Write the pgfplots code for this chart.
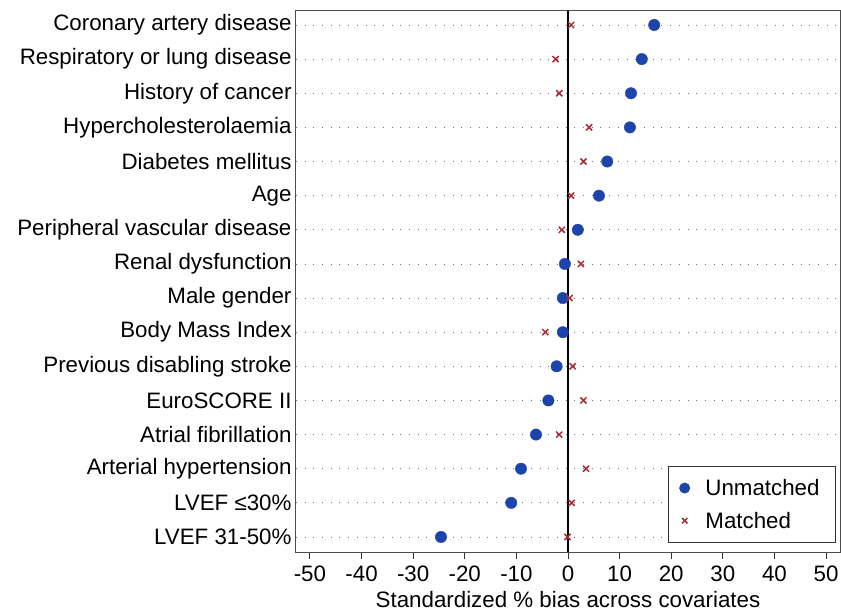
\documentclass[border=0pt]{standalone}
\usepackage{pgfplots}
\pgfplotsset{compat=1.18}
\usepackage{pgfplotstable}
\usepackage{fontspec}
\setmainfont{Liberation Sans}
\definecolor{unm}{RGB}{28,68,170}
\definecolor{mat}{RGB}{172,44,56}
\pgfplotstableread{
y unmatched matched
1 -24.6 -0.1
2 -11.0 0.7
3 -9.1 3.5
4 -6.2 -1.7
5 -3.8 3.0
6 -2.2 0.9
7 -1.0 -4.4
8 -1.0 0.3
9 -0.6 2.5
10 1.9 -1.2
11 6.0 0.6
12 7.6 3.0
13 12.0 4.1
14 12.2 -1.7
15 14.3 -2.4
16 16.7 0.6
}\datatable
\newcommand{\chartfont}{\fontsize{22.4}{26}\selectfont}
\begin{document}
\begin{tikzpicture}
\useasboundingbox (-296bp,-59bp) rectangle (545bp,552bp);
\begin{axis}[
  at={(0,0)}, anchor=south west,
  scale only axis,
  width=544bp, height=541bp,
  xmin=-52.7, xmax=52.7,
  ymin=0.56, ymax=16.41,
  xtick={-50,-40,...,50},
  ytick={1,...,16},
  yticklabels={LVEF 31-50\%, LVEF ≤30\%, Arterial hypertension, Atrial fibrillation, EuroSCORE II, Previous disabling stroke, Body Mass Index, Male gender, Renal dysfunction, Peripheral vascular disease, Age, Diabetes mellitus, Hypercholesterolaemia, History of cancer, Respiratory or lung disease, Coronary artery disease},
  /pgf/number format/assume math mode=true,
  tick label style={font=\chartfont},
  label style={font=\chartfont},
  xlabel={Standardized \% bias across covariates},
  xlabel style={at={(axis description cs:0.5,0)}, anchor=base, yshift=-55bp},
  x tick label style={yshift=-3bp},
  y tick label style={xshift=-1bp},
  xtick align=outside,
  xtick pos=bottom,
  major tick length=7bp,
  x tick style={black!80, line width=0.9bp},
  ytick style={draw=none},
  ymajorgrids,
  grid style={black!55, line width=0.8bp, dash pattern=on 0.9bp off 7.8bp},
  axis line style={black!70, line width=1bp},
  legend style={at={(rel axis cs:1,0)}, anchor=south east, xshift=-4bp, yshift=9bp, font=\chartfont, draw=black!80, line width=0.9bp, inner xsep=0bp, inner ysep=5.5bp, row sep=0bp, column sep=0bp, nodes={inner xsep=0bp, inner ysep=7.5bp}},
  legend cell align=left,
  legend image code/.code={\path (0bp,0bp) (35bp,0bp); \draw[#1] plot coordinates {(15bp,0bp)};},
]
\addplot[forget plot, black, line width=1.4bp] coordinates {(0,0.56) (0,16.41)};
\addplot[only marks, mark=*, mark size=5.7bp, draw=unm, fill=unm, legend image post style={mark size=5bp}] table[x=unmatched, y=y] {\datatable};
\addlegendentry{Unmatched\hspace*{16bp}}
\addplot[only marks, mark=x, mark size=4.3bp, mat, line width=1.5bp, legend image post style={mark size=3.8bp}] table[x=matched, y=y] {\datatable};
\addlegendentry{Matched}
\end{axis}
\end{tikzpicture}
\end{document}
